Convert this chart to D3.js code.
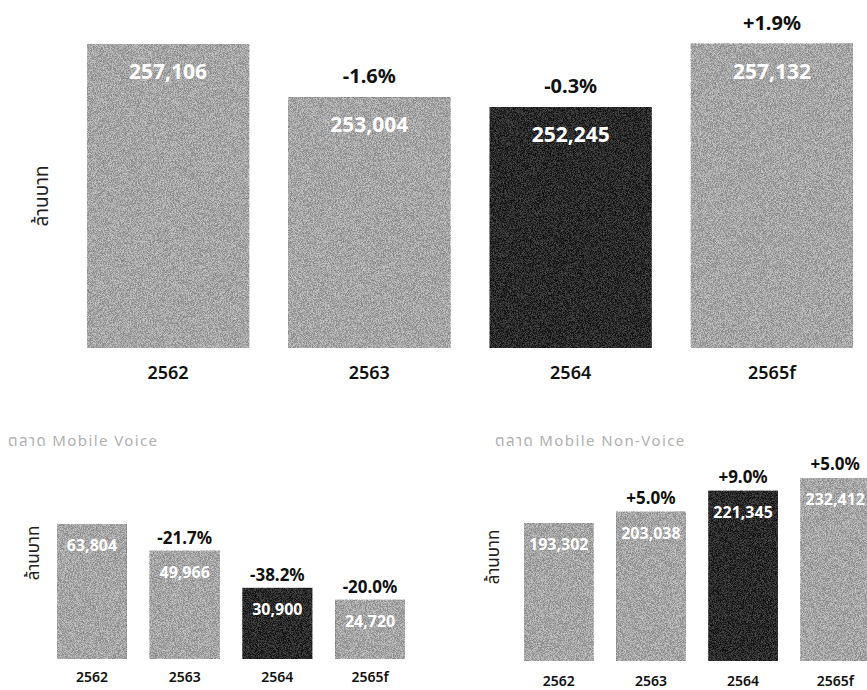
<!DOCTYPE html>
<meta charset="utf-8">
<head>
<script src="https://d3js.org/d3.v7.min.js"></script>
<style>
  body { margin: 0; background: #fff; }
  text { font-family: "Noto Sans", "Noto Sans Thai", "Noto Sans CJK SC", sans-serif; }
</style>
</head>
<body>
<div id="my_dataviz"></div>
<script>

// years on every chart
var years = ["2562", "2563", "2564", "2565f"];

// total mobile market (million baht)
var totalValues = [257106, 253004, 252245, 257132];
var totalLabels = ["257,106", "253,004", "252,245", "257,132"];
var totalChange = ["", "-1.6%", "-0.3%", "+1.9%"];

// mobile voice
var voiceValues = [63804, 49966, 30900, 24720];
var voiceLabels = ["63,804", "49,966", "30,900", "24,720"];
var voiceChange = ["", "-21.7%", "-38.2%", "-20.0%"];

// mobile non-voice
var nonVoiceValues = [193302, 203038, 221345, 232412];
var nonVoiceLabels = ["193,302", "203,038", "221,345", "232,412"];
var nonVoiceChange = ["", "+5.0%", "+9.0%", "+5.0%"];

var unitLabel = "ล้านบาท";

var svg = d3.select("#my_dataviz")
  .append("svg")
    .attr("width", 867)
    .attr("height", 690);

// grainy scanned look: add centred noise to the bar colour
var filt = svg.append("defs").append("filter")
    .attr("id", "grain")
    .attr("x", 0).attr("y", 0).attr("width", 1).attr("height", 1)
    .attr("color-interpolation-filters", "sRGB");
filt.append("feTurbulence")
    .attr("type", "fractalNoise")
    .attr("baseFrequency", 1.4)
    .attr("numOctaves", 1)
    .attr("seed", 5)
    .attr("result", "noise");
filt.append("feColorMatrix")
    .attr("in", "noise")
    .attr("type", "matrix")
    .attr("values", "3 0 0 0 -1  3 0 0 0 -1  3 0 0 0 -1  0 0 0 0 1")
    .attr("result", "gray");
filt.append("feComposite")
    .attr("in", "SourceGraphic")
    .attr("in2", "gray")
    .attr("operator", "arithmetic")
    .attr("k1", 0).attr("k2", 1).attr("k3", 0.24).attr("k4", -0.13);

var lightFill = "#a8a8a8",
    darkFill = "#2c2c2c";

function drawChart(opt) {
  var g = svg.append("g");

  var x = d3.scaleBand()
    .domain(years)
    .range(opt.xRange)
    .paddingInner(opt.pad)
    .paddingOuter(0);

  // the source chart does not start at zero
  var y = d3.scaleLinear()
    .domain(opt.yDomain)
    .range(opt.yRange);

  if (opt.title) {
    g.append("text")
      .attr("x", opt.titleX)
      .attr("y", opt.titleY)
      .text(opt.title)
      .attr("font-size", "15px")
      .attr("letter-spacing", "1.4px")
      .attr("fill", "#b0b0b0");
  }

  g.append("text")
    .attr("transform", "translate(" + opt.unitX + "," + opt.unitY + ") rotate(-90)")
    .attr("text-anchor", "middle")
    .text(unitLabel)
    .attr("font-size", opt.unitSize)
    .attr("fill", "#222");

  g.selectAll("rect")
    .data(opt.values)
    .enter()
    .append("rect")
      .attr("x", function(d, i) { return x(years[i]); })
      .attr("y", function(d) { return y(d); })
      .attr("width", x.bandwidth())
      .attr("height", function(d) { return y(opt.yDomain[0]) - y(d); })
      .attr("fill", function(d, i) { return i == 2 ? darkFill : lightFill; })
      .attr("filter", "url(#grain)");

  // values inside bars
  g.selectAll(".val")
    .data(opt.values)
    .enter()
    .append("text")
      .attr("x", function(d, i) { return x(years[i]) + x.bandwidth() / 2; })
      .attr("y", function(d) { return y(d) + opt.valOff; })
      .attr("text-anchor", "middle")
      .text(function(d, i) { return opt.labels[i]; })
      .attr("font-size", opt.valSize)
      .attr("font-weight", "bold")
      .attr("fill", "#fff");

  // growth above bars
  g.selectAll(".chg")
    .data(opt.values)
    .enter()
    .append("text")
      .attr("x", function(d, i) { return x(years[i]) + x.bandwidth() / 2; })
      .attr("y", function(d) { return y(d) - opt.chgOff; })
      .attr("text-anchor", "middle")
      .text(function(d, i) { return opt.change[i]; })
      .attr("font-size", opt.chgSize)
      .attr("font-weight", "bold")
      .attr("fill", "#111");

  // year labels
  g.selectAll(".yr")
    .data(years)
    .enter()
    .append("text")
      .attr("x", function(d) { return x(d) + x.bandwidth() / 2; })
      .attr("y", opt.yearY)
      .attr("text-anchor", "middle")
      .text(function(d) { return d; })
      .attr("font-size", opt.yearSize)
      .attr("font-weight", "600")
      .attr("fill", "#111");
}

drawChart({
  values: totalValues, labels: totalLabels, change: totalChange,
  xRange: [87, 853], pad: 0.195,
  yDomain: [233650, 257106], yRange: [348, 44],
  valOff: 35, valSize: "21px", chgOff: 14, chgSize: "20px",
  yearY: 379, yearSize: "18px",
  unitX: 48, unitY: 196, unitSize: "19px"
});

drawChart({
  values: voiceValues, labels: voiceLabels, change: voiceChange,
  xRange: [57, 405], pad: 0.246,
  yDomain: [-5700, 63804], yRange: [659, 524],
  valOff: 27, valSize: "16px", chgOff: 7, chgSize: "17px",
  yearY: 682, yearSize: "14px",
  unitX: 39, unitY: 553, unitSize: "17px",
  title: "ตลาด Mobile Voice", titleX: 8, titleY: 446
});

drawChart({
  values: nonVoiceValues, labels: nonVoiceLabels, change: nonVoiceChange,
  xRange: [524, 870], pad: 0.246,
  yDomain: [73400, 232412], yRange: [661, 478],
  valOff: 27, valSize: "16px", chgOff: 8, chgSize: "17px",
  yearY: 686, yearSize: "14px",
  unitX: 499, unitY: 557, unitSize: "17px",
  title: "ตลาด Mobile Non-Voice", titleX: 495, titleY: 446
});

</script>
</body>
